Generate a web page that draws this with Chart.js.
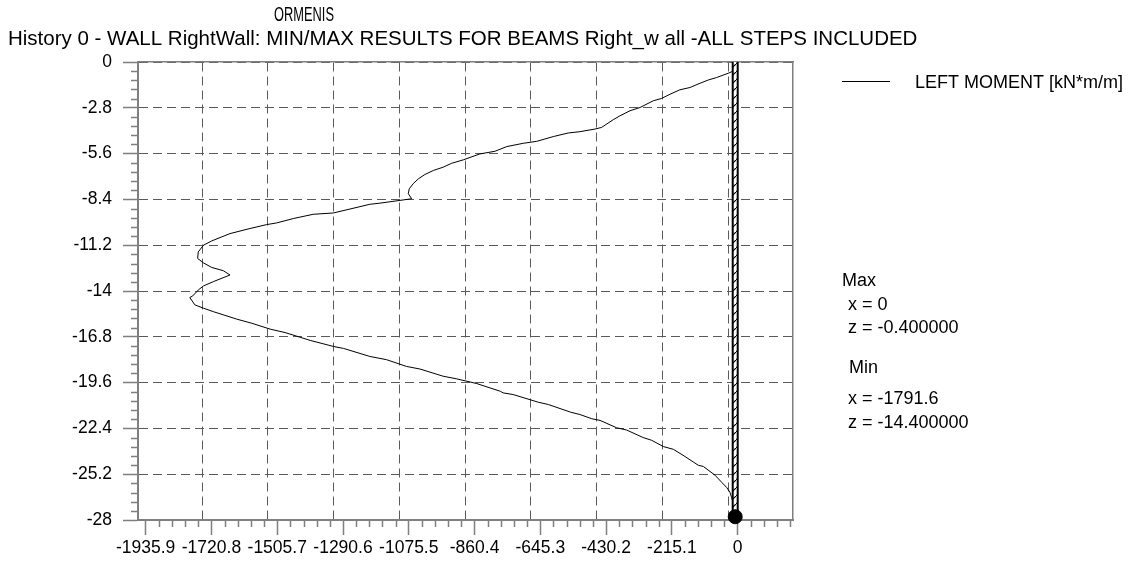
<!DOCTYPE html>
<html>
<head>
<meta charset="utf-8">
<script src="https://cdn.jsdelivr.net/npm/chart.js@4.4.1/dist/chart.umd.min.js"></script>
<style>
  html, body { margin: 0; padding: 0; background: #fff; }
</style>
</head>
<body>
<canvas id="chart" width="1135" height="564"></canvas>
<script>
const titleText = "ORMENIS";
const subtitleText = "History 0 - WALL RightWall: MIN/MAX RESULTS FOR BEAMS Right_w all -ALL STEPS INCLUDED";
const seriesLabel = "LEFT MOMENT [kN*m/m]";

// depth along the wall (m)
const depthZ = [
  -0.4, -0.55, -0.69, -0.95, -1.10, -1.30, -1.56, -1.70, -1.97, -2.23,
  -2.37, -2.78, -2.98, -3.29, -3.53, -4.00, -4.10, -4.26, -4.34, -4.56,
  -4.85, -4.97, -5.17, -5.46, -5.62, -5.98, -6.19, -6.43, -6.63, -6.88,
  -7.14, -7.44, -7.75, -8.05, -8.36, -8.46, -8.63, -8.70, -9.23, -9.31,
  -9.57, -9.84, -9.94, -10.18, -10.49, -10.69, -10.94, -11.20, -11.61, -12.01,
  -12.28, -12.56, -12.76, -13.02, -13.43, -13.69, -13.94, -14.30, -14.40, -14.85,
  -15.05, -15.26, -15.72, -15.97, -16.33, -16.54, -17.02, -17.39, -17.51, -18.00,
  -18.20, -18.61, -18.77, -19.21, -19.37, -19.66, -20.13, -20.23, -20.33, -20.80,
  -20.94, -21.41, -21.55, -21.81, -21.91, -22.36, -22.50, -22.96, -23.13, -23.51,
  -23.68, -24.12, -24.65, -24.73, -25.26, -25.70, -26.01, -26.31, -26.62, -27.00,
  -27.30, -27.60
];
// left moment (kN*m/m)
const leftMoment = [
  0, -14, -31, -69, -96, -123, -156, -189, -221, -249,
  -276, -319, -352, -385, -407, -445, -467, -516, -554, -603,
  -657, -701, -755, -794, -843, -897, -935, -963, -995, -1023,
  -1044, -1061, -1074, -1077, -1066, -1104, -1170, -1203, -1322, -1388,
  -1453, -1508, -1540, -1595, -1660, -1687, -1720, -1747, -1764, -1766,
  -1747, -1720, -1682, -1660, -1715, -1747, -1764, -1782, -1791.6, -1775,
  -1747, -1715, -1638, -1589, -1529, -1480, -1398, -1322, -1289, -1203,
  -1148, -1083, -1039, -963, -919, -853, -776, -767, -734, -652,
  -619, -546, -516, -477, -450, -396, -363, -309, -281, -243,
  -210, -172, -129, -112, -74, -52, -36, -25, -20, -14,
  -9, 0
];

const xTicks = [-1935.9, -1720.8, -1505.7, -1290.6, -1075.5, -860.4, -645.3, -430.2, -215.1, 0];
const yTicks = [0, -2.8, -5.6, -8.4, -11.2, -14, -16.8, -19.6, -22.4, -25.2, -28];
const xRange = [-1961, 181];
const yRange = [-28, 0];
const gridShift = -30.7;   // the dashed verticals sit a little left of the ticks

const wallX = [-8, -8];
const wallZ = [0, -27.8];

const maxNote = ["Max", "x = 0", "z = -0.400000"];
const minNote = ["Min", "x = -1791.6", "z = -14.400000"];

const FONT = '"Liberation Sans", Arial, sans-serif';
const AXIS_GRAY = "#7f7f7f";
const GRID_GRAY = "#5a5a5a";

const ctx = document.getElementById("chart").getContext("2d");

function hatch() {
  const c = document.createElement("canvas");
  c.width = 8; c.height = 8;
  const g = c.getContext("2d");
  g.fillStyle = "#fff";
  g.fillRect(0, 0, 8, 8);
  g.strokeStyle = "#000";
  g.lineWidth = 1.2;
  g.beginPath();
  g.moveTo(-1, 9); g.lineTo(9, -1);
  g.stroke();
  return ctx.createPattern(c, "repeat");
}

const minorTicks = {
  id: "minorTicks",
  afterDraw(chart) {
    const { ctx, scales } = chart;
    const x = scales.x, y = scales.y;
    ctx.save();
    ctx.strokeStyle = AXIS_GRAY;
    ctx.lineWidth = 1.5;
    const xs = (xTicks[1] - xTicks[0]) / 5;
    for (let i = -5; i < xTicks.length * 5 + 10; i++) {
      if (i % 5 === 0) continue;
      const v = xTicks[0] + i * xs;
      if (v < x.min || v > x.max) continue;
      const px = Math.round(x.getPixelForValue(v)) + 0.5;
      ctx.beginPath();
      ctx.moveTo(px, y.bottom);
      ctx.lineTo(px, y.bottom + 7);
      ctx.stroke();
    }
    const ys = (yTicks[1] - yTicks[0]) / 5;
    for (let i = 0; i < yTicks.length * 5; i++) {
      if (i % 5 === 0) continue;
      const v = yTicks[0] + i * ys;
      if (v < y.min || v > y.max) continue;
      const py = Math.round(y.getPixelForValue(v)) + 0.5;
      ctx.beginPath();
      ctx.moveTo(x.left - 7, py);
      ctx.lineTo(x.left, py);
      ctx.stroke();
    }
    ctx.restore();
  }
};

const texts = {
  id: "texts",
  afterDraw(chart) {
    const c = chart.ctx;
    c.save();
    c.fillStyle = "#000";
    c.textBaseline = "middle";
    c.font = "20px " + FONT;
    c.textAlign = "center";
    c.fillText(titleText, 304, 15, 60);
    c.font = "20.5px " + FONT;
    c.textAlign = "left";
    c.fillText(subtitleText, 8, 39, 910);

    // legend
    c.font = "18px " + FONT;
    c.strokeStyle = "#000";
    c.lineWidth = 1;
    c.beginPath();
    c.moveTo(842, 81.5);
    c.lineTo(890, 81.5);
    c.stroke();
    c.fillText(seriesLabel, 915, 83);

    c.fillText(maxNote[0], 842, 281);
    c.fillText(maxNote[1], 848, 305);
    c.fillText(maxNote[2], 848, 328);
    c.fillText(minNote[0], 849, 368);
    c.fillText(minNote[1], 848, 399);
    c.fillText(minNote[2], 848, 423);
    c.restore();
  }
};

const curve = leftMoment.map((v, i) => ({ x: v, y: depthZ[i] }));
const wall = wallX.map((v, i) => ({ x: v, y: wallZ[i] }));

new Chart(ctx, {
  type: "scatter",
  data: {
    datasets: [
      {
        label: "base",
        data: [wall[1]],
        pointRadius: 7,
        pointBackgroundColor: "#000",
        pointBorderColor: "#000",
        clip: false
      },
      {
        label: "wall hatch",
        data: wall,
        showLine: true,
        borderColor: hatch(),
        borderWidth: 3,
        pointRadius: 0
      },
      {
        label: "wall",
        data: wall,
        showLine: true,
        borderColor: "#000",
        borderWidth: 7,
        pointRadius: 0
      },
      {
        label: seriesLabel,
        data: curve,
        showLine: true,
        borderColor: "#000",
        borderWidth: 1,
        pointRadius: 0,
        tension: 0
      }
    ]
  },
  options: {
    responsive: false,
    animation: false,
    layout: { padding: { top: 62, right: 342, left: 0, bottom: 0 } },
    plugins: {
      legend: { display: false },
      tooltip: { enabled: false },
      title: { display: false }
    },
    scales: {
      x: {
        type: "linear",
        position: "bottom",
        min: xRange[0],
        max: xRange[1],
        afterBuildTicks: (s) => { s.ticks = xTicks.map((v) => ({ value: v })); },
        afterFit: (s) => { s.height = 44; },
        grid: {
          drawOnChartArea: false,
          drawTicks: true,
          tickLength: 15,
          tickColor: AXIS_GRAY,
          tickWidth: 1.5
        },
        border: { display: true, color: AXIS_GRAY, width: 2 },
        ticks: {
          autoSkip: false,
          maxRotation: 0,
          padding: 3,
          color: "#000",
          font: { family: FONT, size: 17.5 },
          callback: (v) => String(v)
        }
      },
      xg: {
        type: "linear",
        position: "top",
        min: xRange[0],
        max: xRange[1],
        afterBuildTicks: (s) => {
          s.ticks = xTicks
            .map((v) => ({ value: v + gridShift }))
            .filter((t) => t.value >= xRange[0] && t.value <= xRange[1]);
        },
        afterFit: (s) => { s.height = 0; },
        grid: { color: GRID_GRAY, lineWidth: 1, drawTicks: false },
        border: { display: true, color: AXIS_GRAY, width: 1.5, dash: [9, 5] },
        ticks: { display: false }
      },
      y: {
        type: "linear",
        position: "left",
        min: yRange[0],
        max: yRange[1],
        afterBuildTicks: (s) => { s.ticks = yTicks.map((v) => ({ value: v })); },
        afterFit: (s) => { s.width = 138; },
        grid: {
          color: GRID_GRAY,
          lineWidth: 1,
          drawTicks: true,
          tickLength: 15,
          tickColor: AXIS_GRAY,
          tickWidth: 1.5
        },
        border: { display: true, color: AXIS_GRAY, width: 2, dash: [9, 5] },
        ticks: {
          autoSkip: false,
          padding: 11,
          color: "#000",
          font: { family: FONT, size: 17.5 },
          callback: (v) => String(v)
        }
      },
      yR: {
        type: "linear",
        position: "right",
        min: yRange[0],
        max: yRange[1],
        afterFit: (s) => { s.width = 0; },
        grid: { display: false, drawTicks: false },
        border: { display: true, color: AXIS_GRAY, width: 1.5 },
        ticks: { display: false }
      }
    }
  },
  plugins: [minorTicks, texts]
});
</script>
</body>
</html>
